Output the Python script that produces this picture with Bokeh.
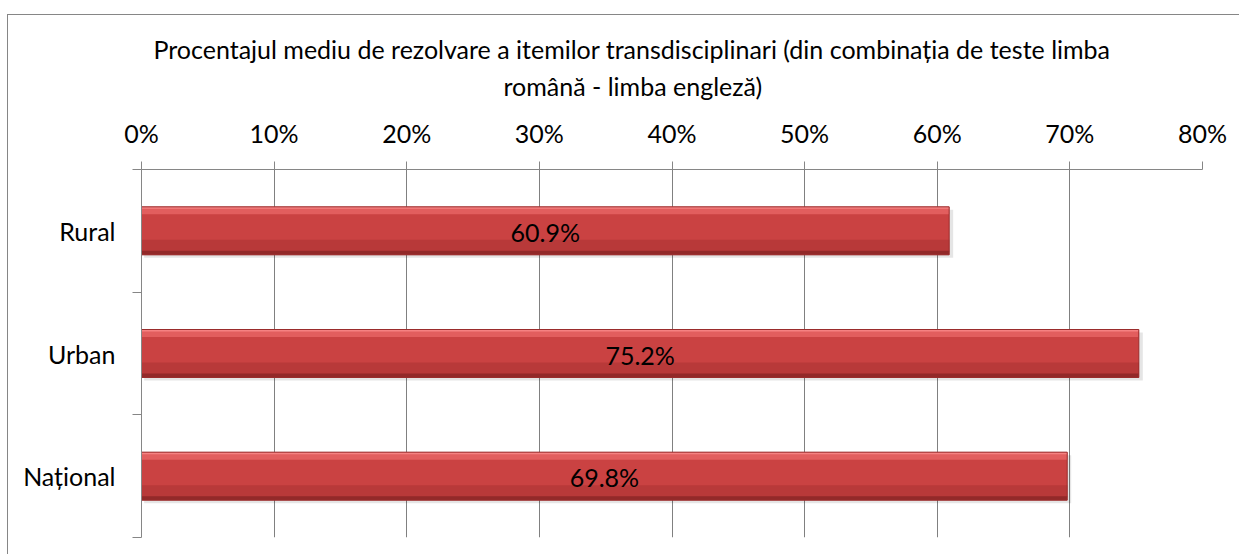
from bokeh.plotting import figure
from bokeh.models import FixedTicker, PrintfTickFormatter, Title, ColumnDataSource
from bokeh.transform import dodge
from bokeh.embed import file_html
from bokeh.resources import INLINE
from bokeh.core.properties import value

# ---- data ----
categories = ["Național", "Urban", "Rural"]          # bottom -> top
values = [69.8, 75.2, 60.9]
value_labels = ["69.8%", "75.2%", "60.9%"]
x_ticks = [0, 10, 20, 30, 40, 50, 60, 70, 80]
title_lines = [
    "Procentajul mediu de rezolvare a itemilor transdisciplinari (din combinația de teste limba",
    "română - limba engleză)",
]

# ---- style ----
FONT = "Lato"
FS = "25px"
GRAY = "#868686"
W, H = 1232, 540
FRAME_L, FRAME_R, FRAME_T, FRAME_B = 133, 1194, 154, 522
band_px = (FRAME_B - FRAME_T) / len(categories)
px = 1.0 / band_px
bh = 48 * px

p = figure(width=W, height=H, output_backend="svg", toolbar_location=None,
           x_range=(0, 80), y_range=(0, len(categories)), x_axis_location="above",
           min_border_left=FRAME_L, min_border_right=W - FRAME_R,
           min_border_top=FRAME_T, min_border_bottom=H - FRAME_B,
           title=title_lines[0])
p.outline_line_color = None
p.background_fill_color = "white"
p.border_fill_color = "white"
p.styles = {"border-top": "1px solid " + GRAY, "border-left": "1px solid " + GRAY,
            "margin-top": "14px", "margin-left": "7px"}

# titles (two lines)
p.title.align = "left"
p.title.offset = 12
p.title.standoff = -18
p.title.text_font = FONT
p.title.text_font_size = FS
p.title.text_font_style = "normal"
p.title.text_color = "black"
t2 = Title(text=title_lines[1], align="left", offset=362, standoff=28,
           text_font=FONT, text_font_size=FS,
           text_font_style="normal", text_color="black")
p.add_layout(t2, "above")

# x axis (top)
xa = p.xaxis[0]
xa.ticker = FixedTicker(ticks=x_ticks)
xa.formatter = PrintfTickFormatter(format="%d%%")
xa.major_tick_out = 8
xa.major_tick_in = 0
xa.minor_tick_line_color = None
xa.axis_line_color = GRAY
xa.major_tick_line_color = GRAY
xa.major_label_text_font = FONT
xa.major_label_text_font_size = FS
xa.major_label_text_color = "black"
xa.major_label_standoff = 14

# y axis (categories)
yc = [i + 0.5 for i in range(len(categories))]
ya = p.yaxis[0]
ya.ticker = FixedTicker(ticks=yc, minor_ticks=list(range(len(categories) + 1)))
ya.major_label_overrides = {y: c for y, c in zip(yc, categories)}
ya.major_tick_line_color = None
ya.major_tick_out = 0
ya.major_tick_in = 0
ya.minor_tick_out = 9
ya.minor_tick_in = 0
ya.minor_tick_line_color = GRAY
ya.axis_line_color = GRAY
ya.major_label_text_font = FONT
ya.major_label_text_font_size = FS
ya.major_label_text_color = "black"
ya.major_label_standoff = 17

p.xgrid.ticker = FixedTicker(ticks=x_ticks)
p.xgrid.grid_line_color = "#808080"
p.ygrid.grid_line_color = None

src = ColumnDataSource(dict(y=yc, v=values, lab=value_labels,
                            mid=[v / 2 for v in values]))

# shadow
p.hbar(y=dodge("y", -3 * px), left=0.2, right=dodge("v", 0.3), height=bh,
       source=src, fill_color="black", fill_alpha=0.10, line_color=None)
# main bar
p.hbar(y="y", left=0, right="v", height=bh, source=src,
       fill_color="#CA4242", line_color=None)
# top highlight
p.hbar(y=dodge("y", (24 - 4) * px), left=0, right="v", height=7 * px, source=src,
       fill_color="#E25E5E", line_color=None)
p.hbar(y=dodge("y", (24 - 1) * px), left=0, right="v", height=2 * px, source=src,
       fill_color="#F58282", line_color=None)
# lower darker zone
p.hbar(y=dodge("y", -(24 - 9) * px), left=0, right="v", height=12 * px, source=src,
       fill_color="#B83939", line_color=None)
p.hbar(y=dodge("y", -(24 - 2) * px), left=0, right="v", height=4 * px, source=src,
       fill_color="#922929", line_color=None)
# outline
p.hbar(y="y", left=0, right="v", height=bh, source=src,
       fill_color=None, line_color="#9A2C2C", line_width=1)

p.text(x="mid", y="y", text="lab", source=src, text_align="center",
       text_baseline="middle", text_font=value(FONT), text_font_size=FS,
       text_color="black", y_offset=1)

open("out.html", "w").write(file_html(p, INLINE))
